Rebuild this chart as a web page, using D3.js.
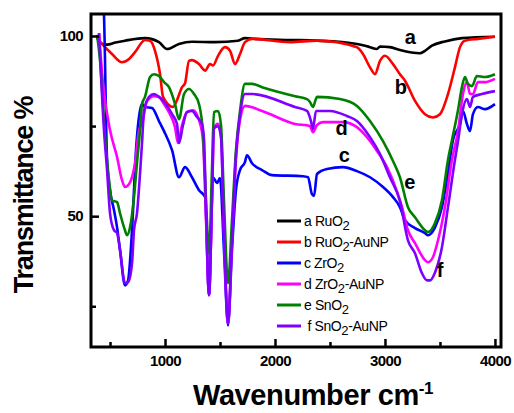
<!DOCTYPE html>
<html>
<head>
<meta charset="utf-8">
<script src="https://cdn.jsdelivr.net/npm/d3@7"></script>
<style>
  body { margin: 0; background: #fff; }
  svg { font-family: Arial, "Liberation Sans", sans-serif; }
</style>
</head>
<body>
<svg id="chart"></svg>
<script>
// spectra: [wavenumber cm-1, transmittance %]
const ruO2 = [[382,99.6],[427,97.8],[473,97.6],[550,98.2],[636,98.7],[818,99.4],[945,98.3],[1018,96.4],[1127,97.8],
  [1245,98.4],[1455,98.3],[1664,98.7],[1727,99.4],[1818,99.2],[2136,98.9],[2382,98.7],[2745,97.8],[2864,96.9],
  [2927,96.4],[2955,97.1],[3045,96.9],[3136,96.1],[3318,95.2],[3364,95.9],[3427,97.3],[3545,98.5],[3700,99.4],[4000,99.8]];

const ruO2Au = [[382,99.4],[427,97.8],[518,95],[609,92.7],[673,93.6],[727,95.5],[818,98.9],[864,98.7],[909,95.9],
  [955,89.4],[982,83.1],[1073,80.3],[1109,82.2],[1155,85.8],[1182,86.9],[1218,93.1],[1245,93.3],[1309,92.2],
  [1364,90.4],[1409,92.2],[1436,91.8],[1482,94.5],[1545,96.9],[1591,95.9],[1636,92.2],[1682,95],[1727,98.3],
  [1791,99.2],[2136,98.3],[2382,98.7],[2745,96.9],[2800,95],[2864,91.3],[2909,89.4],[2955,93.1],[3000,94.5],
  [3073,92.2],[3136,89.4],[3182,87.6],[3273,82],[3364,78.3],[3436,77.4],[3500,78.3],[3573,83.9],[3636,91.3],
  [3682,96.9],[3727,98.7],[3845,99.2],[4000,99.8]];

const zrO2 = [[430,125],[450,100],[473,65.6],[500,57.2],[536,51.7],[564,46.9],[591,40.6],[636,30.8],[664,32.2],
  [700,46.1],[736,68.3],[773,79.4],[791,81.1],[818,80.3],[882,80],[945,76.4],[991,73.6],[1064,68.3],[1127,60.8],
  [1182,63.6],[1245,60.8],[1309,57.2],[1364,55.3],[1400,28.1],[1436,60.8],[1473,59.2],[1500,60.6],[1536,40.6],
  [1573,19.7],[1609,40.6],[1645,57.2],[1682,62.8],[1727,65],[1745,66.9],[1791,64.7],[1882,62.8],[1973,61.4],
  [2255,61.1],[2300,60.8],[2336,56.1],[2355,55.6],[2382,61.7],[2473,63.1],[2618,63.6],[2745,62.5],[2864,60.8],
  [2982,58.1],[3073,55.3],[3136,52.5],[3182,48.9],[3273,46.7],[3364,45.3],[3391,44.7],[3455,46.9],[3518,52.5],
  [3573,61.9],[3618,71.1],[3682,75.6],[3709,79.2],[3745,75.6],[3773,73.6],[3800,78.3],[3845,80.3],[3909,79.7],[4000,81.1]];

const zrO2Au = [[400,100.8],[436,86.9],[500,73.9],[564,66.4],[609,60],[636,58.1],[682,59.4],[727,64.7],[764,73.9],
  [791,75.6],[836,81.9],[900,83.3],[945,83.1],[991,81.1],[1045,78.3],[1091,74.7],[1118,70.3],[1155,75.3],
  [1200,78.9],[1255,79.4],[1318,75.8],[1345,71.1],[1373,48.9],[1400,28.1],[1427,54.4],[1445,74.4],[1482,75.6],
  [1509,72.5],[1536,46.1],[1573,20.3],[1609,43.3],[1645,65.6],[1682,76.7],[1727,80.6],[1882,79.2],[2182,75.6],
  [2318,75],[2345,73.3],[2382,75.3],[2436,76.1],[2618,76.1],[2745,74.7],[2836,71.9],[2927,68.1],[3018,63.6],
  [3109,56.9],[3155,52.5],[3209,46.1],[3273,42.5],[3364,37.8],[3391,37.2],[3436,38.6],[3482,43.3],[3545,52.5],
  [3609,65.6],[3664,73.6],[3709,83.9],[3745,87.2],[3773,83.9],[3800,83.9],[3845,87.2],[3909,87.2],[4000,88.1]];

const snO2 = [[382,100.3],[409,93.3],[445,76.7],[473,65.6],[491,60],[518,54.4],[564,53.9],[591,50.8],[636,46.1],
  [655,44.7],[682,46.9],[718,55.3],[745,64.7],[773,73.9],[791,81.1],[818,83.1],[864,88.6],[900,89.4],[945,88.9],
  [991,87.2],[1036,85.8],[1091,81.1],[1127,76.9],[1173,83.9],[1218,85.3],[1264,83.9],[1309,81.1],[1345,73.1],
  [1373,54.4],[1400,39.7],[1427,62.8],[1445,78.9],[1482,79.2],[1509,75.3],[1536,54.4],[1573,31.4],[1609,48.9],
  [1645,68.3],[1682,79.2],[1727,86.7],[1791,86.7],[1882,85.8],[2182,83.3],[2291,82.5],[2318,81.7],[2345,80.3],
  [2382,83.1],[2591,82.5],[2745,80.6],[2864,76.4],[2982,70.8],[3073,65.3],[3136,60.8],[3209,52.5],[3273,49.7],
  [3364,46.1],[3391,45.6],[3455,48.1],[3518,54.4],[3573,65.6],[3609,71.1],[3664,79.4],[3700,85.8],[3727,88.6],
  [3755,86.7],[3791,86.1],[3836,88.9],[3909,88.6],[4000,89.4]];

const snO2Au = [[400,100.8],[445,73.9],[473,62.8],[500,50.8],[536,46.1],[564,45.3],[591,40.6],[636,31.4],[664,31.7],
  [700,36.9],[718,46.1],[745,50.8],[773,61.9],[791,70.3],[809,79.2],[855,83.1],[900,83.9],[945,83.1],[991,81.7],
  [1064,78.3],[1109,75.6],[1127,70.3],[1164,75.3],[1200,78.9],[1245,79.2],[1291,77.5],[1336,75.6],[1355,71.1],
  [1373,51.7],[1400,28.1],[1427,54.4],[1445,74.4],[1482,75],[1509,71.9],[1536,46.1],[1573,20.3],[1609,43.3],
  [1645,66.9],[1682,78.1],[1727,83.9],[1791,83.9],[2182,80.3],[2291,79.2],[2327,76.4],[2345,74.2],[2373,79.2],
  [2500,79.2],[2655,77.8],[2745,76.4],[2864,71.9],[2955,67.2],[3045,60.8],[3136,54.2],[3209,43.3],[3273,39.7],
  [3336,34.2],[3382,32.2],[3409,32.2],[3455,34.4],[3518,41.4],[3573,52.5],[3636,65.6],[3664,70.8],[3700,78.3],
  [3745,82.5],[3773,80.3],[3800,83.1],[3882,83.9],[4000,84.7]];

const seriesData = [ruO2, ruO2Au, zrO2, zrO2Au, snO2, snO2Au];
const seriesColors = ["#000000", "#ff0000", "#0000ff", "#ff00ff", "#008000", "#8000ff"];
const legendNames = [["a RuO", "2", ""], ["b RuO", "2", "-AuNP"], ["c ZrO", "2", ""],
  ["d ZrO", "2", "-AuNP"], ["e SnO", "2", ""], [" f SnO", "2", "-AuNP"]];
const curveLetters = ["a", "b", "c", "d", "e", "f"];
const curveLetterPos = [[3180, 97.8], [3090, 83.9], [2580, 65], [2550, 72.5], [3175, 57.5], [3470, 33]];

const xMajor = [1000, 2000, 3000, 4000];
const xMinor = [500, 1500, 2500, 3500];
const yMajor = [50, 100];
const yMinor = [25, 75];

const W = 514, H = 413;
const margin = { top: 14, right: 13, bottom: 66, left: 91 };
const iw = W - margin.left - margin.right;
const ih = H - margin.top - margin.bottom;

const svg = d3.select("#chart").attr("width", W).attr("height", H);
const g = svg.append("g").attr("transform", `translate(${margin.left},${margin.top})`);

const x = d3.scaleLinear().domain([327, 4055]).range([0, iw]);
const y = d3.scaleLinear().domain([13.7, 106.1]).range([ih, 0]);

svg.append("defs").append("clipPath").attr("id", "plotclip")
  .append("rect").attr("width", iw).attr("height", ih);

const line = d3.line()
  .x(d => x(d[0]))
  .y(d => y(d[1]))
  .curve(d3.curveMonotoneX);

const plot = g.append("g").attr("clip-path", "url(#plotclip)");
seriesData.forEach((s, i) => {
  plot.append("path")
    .datum(s)
    .attr("d", line)
    .attr("fill", "none")
    .attr("stroke", seriesColors[i])
    .attr("stroke-width", 2.6)
    .attr("stroke-linejoin", "round");
});

// axes with inward ticks
g.append("g").attr("transform", `translate(0,${ih})`)
  .call(d3.axisBottom(x).tickValues(xMajor).tickSize(-8).tickPadding(8).tickFormat(d3.format("d")));
g.append("g").attr("transform", `translate(0,${ih})`)
  .call(d3.axisBottom(x).tickValues(xMinor).tickSize(-5).tickFormat(""));
g.append("g")
  .call(d3.axisLeft(y).tickValues(yMajor).tickSize(-8).tickPadding(8).tickFormat(d3.format("d")));
g.append("g")
  .call(d3.axisLeft(y).tickValues(yMinor).tickSize(-5).tickFormat(""));

g.selectAll(".domain").remove();
g.selectAll(".tick line").attr("stroke", "#000").attr("stroke-width", 2.5);
g.selectAll(".tick text")
  .attr("fill", "#000")
  .style("font-size", "15px")
  .style("font-weight", "bold")
  .style("letter-spacing", "-0.6px");

g.append("rect")
  .attr("width", iw).attr("height", ih)
  .attr("fill", "none").attr("stroke", "#000").attr("stroke-width", 3);

// curve letters
g.selectAll(".lbl").data(curveLetters).enter().append("text")
  .attr("x", (d, i) => x(curveLetterPos[i][0]))
  .attr("y", (d, i) => y(curveLetterPos[i][1]))
  .text(d => d)
  .style("font-size", "20px").style("font-weight", "bold");

// legend
const legend = g.append("g").attr("transform", "translate(186,207)");
legendNames.forEach((n, i) => {
  const row = legend.append("g").attr("transform", `translate(0,${i * 21})`);
  row.append("line").attr("x1", 0).attr("x2", 24).attr("y1", 0).attr("y2", 0)
    .attr("stroke", seriesColors[i]).attr("stroke-width", 3);
  const t = row.append("text").attr("x", 27).attr("y", 5)
    .style("font-size", "14px").style("letter-spacing", "-0.4px").attr("xml:space", "preserve");
  t.append("tspan").text(n[0]);
  t.append("tspan").attr("dy", 4).style("font-size", "13px").text(n[1]);
  t.append("tspan").attr("dy", -4).text(n[2]);
});

// axis titles
svg.append("text")
  .attr("transform", `translate(33,${margin.top + 181}) rotate(-90)`)
  .attr("text-anchor", "middle")
  .style("font-size", "27px").style("font-weight", "bold").style("letter-spacing", "-1.2px")
  .text("Transmittance %");

const xt = svg.append("text")
  .attr("x", 193).attr("y", 405)
  .style("font-size", "29px").style("font-weight", "bold").style("letter-spacing", "-0.4px");
xt.append("tspan").text("Wavenumber cm");
xt.append("tspan").attr("dy", -11).style("font-size", "17px").text("-1");
</script>
</body>
</html>
